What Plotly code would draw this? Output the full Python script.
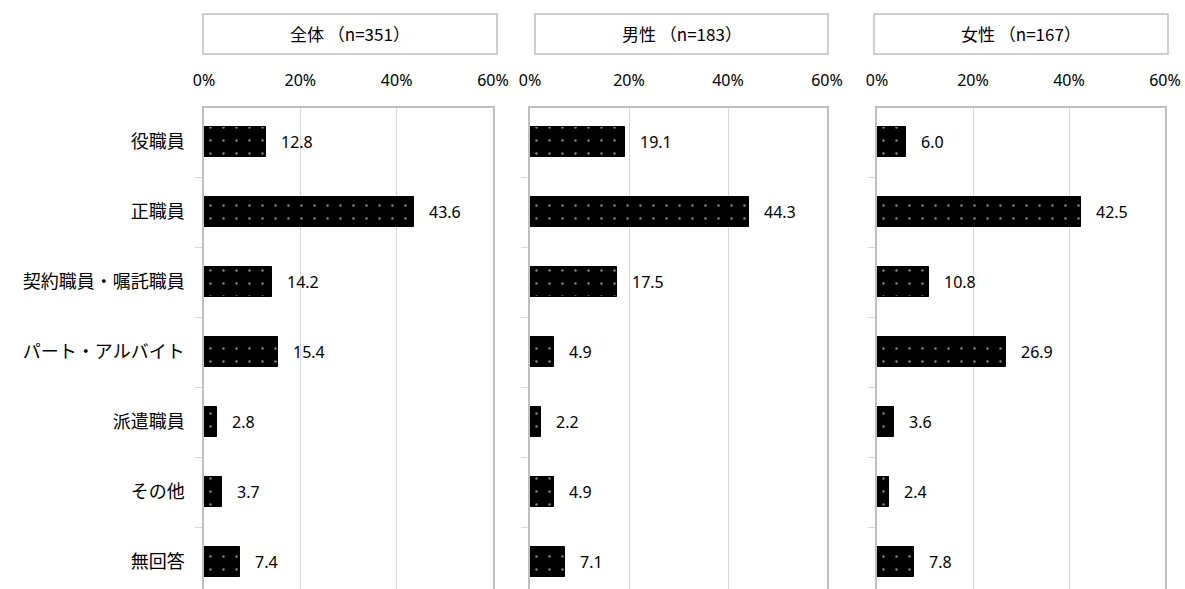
import plotly.graph_objects as go

categories = ["役職員", "正職員", "契約職員・嘱託職員", "パート・アルバイト", "派遣職員", "その他", "無回答"]
panel_titles = ["全体 （n=351）", "男性 （n=183）", "女性 （n=167）"]
total_vals = [12.8, 43.6, 14.2, 15.4, 2.8, 3.7, 7.4]
male_vals = [19.1, 44.3, 17.5, 4.9, 2.2, 4.9, 7.1]
female_vals = [6.0, 42.5, 10.8, 26.9, 3.6, 2.4, 7.8]
x_tick_vals = [0, 20, 40, 60]
x_tick_text = ["0%", "20%", "40%", "60%"]

W, H = 1185, 589
series = [total_vals, male_vals, female_vals]
x_px = [(204, 493), (530, 827), (877, 1165)]
box_px = [(203, 497), (535, 828), (874, 1168)]
top_px = 108
y_top = 1 - top_px / H
band = 70.0
first_center = 142
r_top = -(first_center - top_px) / band
r_bot = r_top + (H - top_px) / band

FONT_JP = "Noto Sans CJK JP"
FONT_NUM = "Noto Sans, Noto Sans CJK JP"
FRAME = "#bfbfbf"
GRID = "#d9d9d9"

fig = go.Figure()
for i, vals in enumerate(series):
    xa = "x" if i == 0 else f"x{i+1}"
    ya = "y" if i == 0 else f"y{i+1}"
    fig.add_trace(go.Bar(
        x=vals, y=categories, orientation="h", xaxis=xa, yaxis=ya,
        width=0.42,
        marker=dict(color="black", line=dict(color="black", width=1),
                    pattern=dict(shape=".", fgcolor="white", bgcolor="black",
                                 size=13, solidity=0.03, fillmode="overlay")),
        showlegend=False, hoverinfo="skip",
    ))
    for v, c in zip(vals, categories):
        fig.add_annotation(x=v, y=c, xref=xa, yref=ya, text=f"{v:.1f}",
                           showarrow=False, xanchor="left", yanchor="middle", xshift=13,
                           font=dict(family=FONT_NUM, size=16, color="#000"))
    x0, x1 = x_px[i]
    axkw = dict(domain=[x0 / W, x1 / W], range=[0, 60], side="top",
                tickvals=x_tick_vals, ticktext=x_tick_text,
                showgrid=True, gridcolor=GRID, gridwidth=1,
                showline=True, linecolor=FRAME, linewidth=1.5,
                zeroline=False, ticks="", ticklabelstandoff=14,
                tickfont=dict(family=FONT_NUM, size=16, color="#000"),
                anchor=ya, fixedrange=True, automargin=False)
    aykw = dict(domain=[0, y_top], type="category", categoryorder="array",
                categoryarray=categories, range=[r_bot, r_top],
                showline=True, linecolor=FRAME, linewidth=1.5, mirror=True,
                ticks="outside", tickson="boundaries", ticklen=7, tickcolor=GRID,
                showticklabels=(i == 0), ticklabelstandoff=14,
                tickfont=dict(family=FONT_JP, size=18, color="#000"),
                showgrid=False, anchor=xa, fixedrange=True, automargin=False)
    fig.update_layout(**{("xaxis" if i == 0 else f"xaxis{i+1}"): axkw,
                         ("yaxis" if i == 0 else f"yaxis{i+1}"): aykw})
    b0, b1 = box_px[i]
    fig.add_shape(type="rect", xref="paper", yref="paper",
                  x0=b0 / W, x1=b1 / W, y0=1 - 54 / H, y1=1 - 14 / H,
                  line=dict(color=FRAME, width=1.5), fillcolor="white")
    fig.add_annotation(xref="paper", yref="paper", x=(b0 + b1) / 2 / W, y=1 - 34 / H,
                       xanchor="center", yanchor="middle",
                       text=panel_titles[i], showarrow=False,
                       font=dict(family=FONT_JP, size=17, color="#000"))

fig.update_layout(width=W, height=H, margin=dict(l=0, r=0, t=0, b=0, autoexpand=False),
                  plot_bgcolor="white", paper_bgcolor="white", bargap=0)
fig.write_html("out.html", config={"displayModeBar": False},
               post_script="document.body.style.margin='0';")
